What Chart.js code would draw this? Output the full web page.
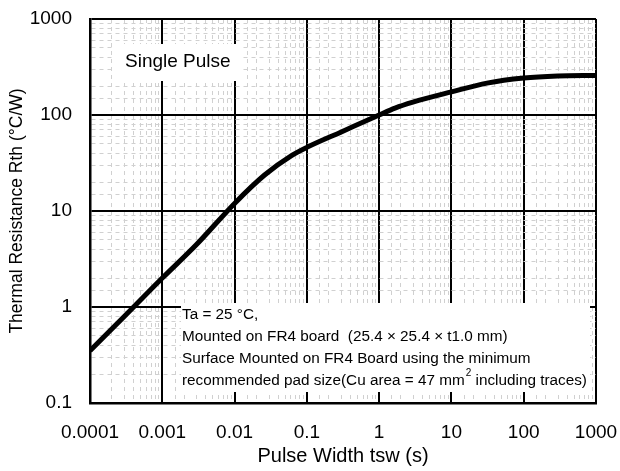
<!DOCTYPE html>
<html>
<head>
<meta charset="utf-8">
<script src="https://cdn.jsdelivr.net/npm/chart.js@4"></script>
<style>
  body { margin: 0; background: #fff; }
  canvas { display: block; }
</style>
</head>
<body>
<canvas id="rth-chart" width="620" height="471"></canvas>
<script>
Chart.defaults.devicePixelRatio = 1;
Chart.defaults.font.family = "Arial, 'Liberation Sans', sans-serif";
Chart.defaults.color = "#000";

// pulse width (s) and thermal resistance (°C/W)
const pulseWidth = [0.0001, 0.0003, 0.001, 0.003, 0.01, 0.026, 0.062, 0.1, 0.305, 1, 1.66, 2.93, 10, 31, 100, 295, 1000];
const rth = [0.35, 0.8, 2.0, 4.5, 12, 23.7, 38, 46, 67, 100, 118, 136, 174, 215, 243, 255, 258];

const xTickLabels = ["0.0001", "0.001", "0.01", "0.1", "1", "10", "100", "1000"];
const yTickLabels = ["0.1", "1", "10", "100", "1000"];

const noteLines = [
  "Ta = 25 \u00B0C,",
  "Mounted on FR4 board  (25.4 \u00D7 25.4 \u00D7 t1.0 mm)",
  "Surface Mounted on FR4 Board using the minimum",
];
const noteLast = ["recommended pad size(Cu area = 47 mm", "2", " including traces)"];

const FONT = "Arial, 'Liberation Sans', sans-serif";

function isDecade(v) {
  const l = Math.log10(v);
  return Math.abs(l - Math.round(l)) < 1e-6;
}

function gridColor(ctx) {
  if (!ctx.tick) return "#000";
  return isDecade(ctx.tick.value) ? "#000" : "#d0d0d0";
}
function gridWidth(ctx) {
  if (!ctx.tick) return 1;
  return isDecade(ctx.tick.value) ? 2 : 1;
}
function gridDash(ctx) {
  if (!ctx.tick) return [];
  return isDecade(ctx.tick.value) ? [] : [4, 4];
}

const notesPlugin = {
  id: "notes",
  beforeDatasetsDraw(chart) {
    const { ctx, chartArea: a } = chart;
    ctx.save();
    // "Single Pulse" box
    ctx.fillStyle = "#fff";
    ctx.fillRect(a.left + 23, a.top + 25, 128, 37);
    ctx.fillStyle = "#000";
    ctx.font = "19px " + FONT;
    ctx.textBaseline = "middle";
    ctx.fillText("Single Pulse", a.left + 35, a.top + 43);

    // conditions box
    const bx = a.left + 91;
    const by = a.top + 284;
    ctx.fillStyle = "#fff";
    ctx.fillRect(bx, by, a.right - 6 - bx, 89);
    ctx.fillStyle = "#000";
    ctx.font = "15.3px " + FONT;
    const tx = bx + 1;
    noteLines.forEach((t, i) => ctx.fillText(t, tx, by + 12 + i * 21.8));
    const ly = by + 12 + 3 * 21.8;
    ctx.fillText(noteLast[0], tx, ly);
    let w = ctx.measureText(noteLast[0]).width;
    ctx.font = "10px " + FONT;
    ctx.fillText(noteLast[1], tx + w + 1, ly - 7);
    w += ctx.measureText(noteLast[1]).width + 1;
    ctx.font = "15.3px " + FONT;
    ctx.fillText(noteLast[2], tx + w, ly);
    ctx.restore();
  },
};

const points = pulseWidth.map((x, i) => ({ x: x, y: rth[i] }));

new Chart(document.getElementById("rth-chart"), {
  type: "line",
  data: {
    datasets: [
      {
        data: points,
        borderColor: "#000",
        borderWidth: 5,
        pointRadius: 0,
        cubicInterpolationMode: "monotone",
        fill: false,
      },
    ],
  },
  options: {
    responsive: false,
    animation: false,
    layout: { padding: { left: 0, right: 24, top: 19, bottom: 0 } },
    plugins: { legend: { display: false }, tooltip: { enabled: false } },
    scales: {
      x: {
        type: "logarithmic",
        min: 0.0001,
        max: 1000,
        afterFit: (s) => { s.height = 68; s.paddingLeft = 0; s.paddingRight = 0; },
        grid: { color: gridColor, lineWidth: gridWidth, drawTicks: false },
        border: { color: "#000", width: 2.5, dash: gridDash },
        ticks: {
          autoSkip: false,
          maxRotation: 0,
          padding: 18,
          font: { size: 19 },
          callback: (v) => isDecade(v) ? xTickLabels[Math.round(Math.log10(v)) + 4] : "",
        },
        title: {
          display: true,
          text: "Pulse Width tsw (s)",
          font: { size: 20 },
          padding: { top: 0, bottom: 3 },
        },
      },
      y: {
        type: "logarithmic",
        min: 0.1,
        max: 1000,
        afterFit: (s) => { s.width = 90; s.paddingTop = 0; s.paddingBottom = 0; },
        grid: { color: gridColor, lineWidth: gridWidth, drawTicks: false },
        border: { color: "#000", width: 2.5, dash: gridDash },
        ticks: {
          autoSkip: false,
          padding: 18,
          font: { size: 19 },
          callback: (v) => isDecade(v) ? yTickLabels[Math.round(Math.log10(v)) + 1] : "",
        },
        title: {
          display: true,
          text: "Thermal Resistance Rth (\u00B0C/W)",
          font: { size: 17.5 },
          padding: { top: 7, bottom: 0 },
        },
      },
    },
  },
  plugins: [notesPlugin],
});
</script>
</body>
</html>
